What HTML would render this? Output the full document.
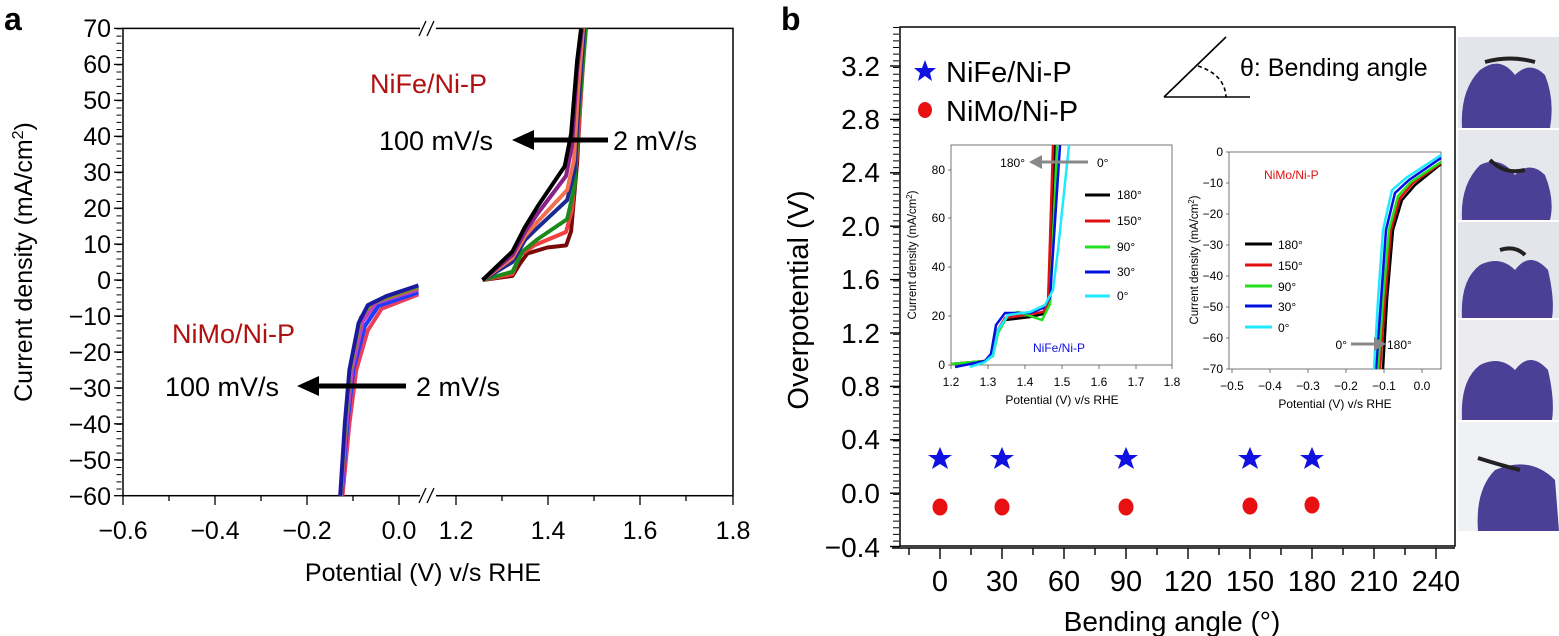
<!DOCTYPE html>
<html><head><meta charset="utf-8"><style>
html,body{margin:0;padding:0;background:#fff;}
svg{display:block;font-family:"Liberation Sans",sans-serif;}
</style></head><body>
<svg width="1559" height="636" viewBox="0 0 1559 636" xmlns="http://www.w3.org/2000/svg">
<!-- ===== Panel a ===== -->
<text x="4" y="30" font-size="32" font-weight="bold">a</text>
<rect x="123" y="28.4" width="610" height="467.3" fill="none" stroke="#000" stroke-width="1.5"/>
<rect x="420" y="22" width="16" height="12" fill="#fff"/>
<rect x="420" y="490" width="16" height="12" fill="#fff"/>
<g stroke="#000" stroke-width="1.3">
<line x1="419" y1="36" x2="426" y2="21"/><line x1="427" y1="36" x2="434" y2="21"/>
<line x1="419" y1="503" x2="426" y2="488"/><line x1="427" y1="503" x2="434" y2="488"/>
</g>
<line x1="119" y1="28.4" x2="119" y2="496" stroke="#000" stroke-width="5" stroke-dasharray="1 6.19"/>
<g stroke="#000" stroke-width="1.3">
<line x1="114" y1="28.4" x2="123" y2="28.4"/><line x1="114" y1="64.4" x2="123" y2="64.4"/><line x1="114" y1="100.3" x2="123" y2="100.3"/><line x1="114" y1="136.3" x2="123" y2="136.3"/><line x1="114" y1="172.2" x2="123" y2="172.2"/><line x1="114" y1="208.2" x2="123" y2="208.2"/><line x1="114" y1="244.1" x2="123" y2="244.1"/><line x1="114" y1="280" x2="123" y2="280"/><line x1="114" y1="316" x2="123" y2="316"/><line x1="114" y1="352" x2="123" y2="352"/><line x1="114" y1="387.9" x2="123" y2="387.9"/><line x1="114" y1="423.8" x2="123" y2="423.8"/><line x1="114" y1="459.8" x2="123" y2="459.8"/><line x1="114" y1="495.7" x2="123" y2="495.7"/>
<line x1="123" y1="496" x2="123" y2="505"/><line x1="169" y1="496" x2="169" y2="501"/><line x1="215" y1="496" x2="215" y2="505"/><line x1="261" y1="496" x2="261" y2="501"/><line x1="307" y1="496" x2="307" y2="505"/><line x1="353" y1="496" x2="353" y2="501"/><line x1="399" y1="496" x2="399" y2="505"/>
<line x1="456" y1="496" x2="456" y2="505"/><line x1="502" y1="496" x2="502" y2="501"/><line x1="548" y1="496" x2="548" y2="505"/><line x1="594" y1="496" x2="594" y2="501"/><line x1="640" y1="496" x2="640" y2="505"/><line x1="686" y1="496" x2="686" y2="501"/><line x1="733" y1="496" x2="733" y2="505"/>
</g>
<g font-size="25" text-anchor="end">
<text x="111" y="37">70</text><text x="111" y="73">60</text><text x="111" y="109">50</text><text x="111" y="145">40</text><text x="111" y="181">30</text><text x="111" y="217">20</text><text x="111" y="253">10</text><text x="111" y="289">0</text><text x="111" y="325">−10</text><text x="111" y="361">−20</text><text x="111" y="397">−30</text><text x="111" y="433">−40</text><text x="111" y="469">−50</text><text x="111" y="505">−60</text>
</g>
<g font-size="25" text-anchor="middle">
<text x="123" y="539">−0.6</text><text x="215" y="539">−0.4</text><text x="307" y="539">−0.2</text><text x="399" y="539">0.0</text><text x="456" y="539">1.2</text><text x="548" y="539">1.4</text><text x="640" y="539">1.6</text><text x="733" y="539">1.8</text>
<text x="423" y="581">Potential (V) v/s RHE</text>
</g>
<text transform="translate(32,262) rotate(-90)" font-size="25" text-anchor="middle">Current density (mA/cm<tspan font-size="16" dy="-9">2</tspan><tspan dy="9">)</tspan></text>
<g fill="none" stroke-width="4" stroke-linejoin="round">
<path d="M342.5,495.7 L349.4,423.8 L356.3,369.9 L367.8,330.3 L381.6,308.8 L418.4,294.4" stroke="#e8405a"/>
<path d="M341.5,495.7 L347.4,423.8 L353.3,369.9 L364.8,326.3 L378.6,305.8 L418.4,292.4" stroke="#1e3cff"/>
<path d="M341,495.7 L346.4,423.8 L352,369.9 L362.8,321.3 L376,303 L418.4,289.4" stroke="#c040c0"/>
<path d="M340.5,495.7 L345.4,423.8 L350.4,369.9 L360.6,318 L372,303 L418.4,287.4" stroke="#8a8a20"/>
<path d="M340.2,495.7 L344.8,423.8 L349.4,369.9 L358.6,323.1 L367.8,305.2 L386.2,296.2 L418.4,285.4" stroke="#1a1aa0"/>
</g>
<g fill="none" stroke-width="4" stroke-linejoin="round">
<path d="M482.6,280 L512.4,275.9 L519.9,263.7 L527.4,253.5 L547.3,247.5 L566.2,245.4 L571.1,231.2 L577.1,162.3 L584.6,28.4" stroke="#7a0a0a"/>
<path d="M482.6,280 L512.4,274 L520,255 L535,245 L566,232 L572,210 L578,140 L585.5,28.4" stroke="#f04040"/>
<path d="M482.6,280 L512.4,271.8 L522.4,251.5 L537.3,239.4 L567.2,219.1 L574.6,186.6 L578.1,121.7 L586,28.4" stroke="#1a8a1a"/>
<path d="M482.6,280 L512.4,262 L525,240 L537.3,228 L567.2,200 L574.6,170 L578.1,110 L584,28.4" stroke="#1a2a90"/>
<path d="M482.6,280 L512.4,258 L525,236 L537.3,222 L567.2,190 L574,160 L578.1,90 L583,28.4" stroke="#f07050"/>
<path d="M482.6,280 L512.4,255 L525,232 L537.3,214 L566,176 L572,146 L577.1,70 L582,28.4" stroke="#8a208a"/>
<path d="M482.6,280 L512.4,251.5 L524.9,227.2 L537.3,206.9 L564.7,166.3 L571.1,133.9 L577.1,60.9 L581.1,28.4" stroke="#000"/>
</g>
<g font-size="27">
<text x="370" y="93" fill="#b01010">NiFe/Ni-P</text>
<text x="172" y="343" fill="#b01010">NiMo/Ni-P</text>
<text x="379" y="150">100 mV/s</text><text x="613" y="150">2 mV/s</text>
<text x="165" y="396">100 mV/s</text><text x="416" y="396">2 mV/s</text>
</g>
<line x1="608" y1="140" x2="528" y2="140" stroke="#000" stroke-width="5"/>
<polygon points="512,140 534,130 534,150" fill="#000"/>
<line x1="406" y1="386" x2="313" y2="386" stroke="#000" stroke-width="5"/>
<polygon points="297,386 319,376 319,396" fill="#000"/>

<!-- ===== Panel b ===== -->
<text x="781" y="30" font-size="32" font-weight="bold">b</text>
<rect x="900" y="27" width="555" height="519" fill="none" stroke="#000" stroke-width="1.5"/>
<line x1="896" y1="27" x2="896" y2="546" stroke="#000" stroke-width="6" stroke-dasharray="1 5.67"/>
<g stroke="#000" stroke-width="1.4">
<line x1="890" y1="66" x2="900" y2="66"/><line x1="890" y1="119.4" x2="900" y2="119.4"/><line x1="890" y1="172.8" x2="900" y2="172.8"/><line x1="890" y1="226.2" x2="900" y2="226.2"/><line x1="890" y1="279.6" x2="900" y2="279.6"/><line x1="890" y1="333" x2="900" y2="333"/><line x1="890" y1="386.4" x2="900" y2="386.4"/><line x1="890" y1="439.8" x2="900" y2="439.8"/><line x1="890" y1="493.2" x2="900" y2="493.2"/><line x1="890" y1="546.5" x2="900" y2="546.5"/>
<line x1="892" y1="548" x2="1455" y2="548"/>
<line x1="909" y1="548" x2="909" y2="555"/><line x1="940" y1="548" x2="940" y2="559"/><line x1="971" y1="548" x2="971" y2="555"/><line x1="1002" y1="548" x2="1002" y2="559"/><line x1="1033" y1="548" x2="1033" y2="555"/><line x1="1064" y1="548" x2="1064" y2="559"/><line x1="1095" y1="548" x2="1095" y2="555"/><line x1="1126" y1="548" x2="1126" y2="559"/><line x1="1157" y1="548" x2="1157" y2="555"/><line x1="1188" y1="548" x2="1188" y2="559"/><line x1="1219" y1="548" x2="1219" y2="555"/><line x1="1250" y1="548" x2="1250" y2="559"/><line x1="1281" y1="548" x2="1281" y2="555"/><line x1="1312" y1="548" x2="1312" y2="559"/><line x1="1343" y1="548" x2="1343" y2="555"/><line x1="1374" y1="548" x2="1374" y2="559"/><line x1="1405" y1="548" x2="1405" y2="555"/><line x1="1436" y1="548" x2="1436" y2="559"/>
</g>
<g font-size="28" text-anchor="end">
<text x="880" y="76">3.2</text><text x="880" y="129">2.8</text><text x="880" y="182">2.4</text><text x="880" y="236">2.0</text><text x="880" y="289">1.6</text><text x="880" y="343">1.2</text><text x="880" y="396">0.8</text><text x="880" y="449">0.4</text><text x="880" y="503">0.0</text><text x="880" y="557">−0.4</text>
</g>
<g font-size="29" text-anchor="middle">
<text x="940" y="591">0</text><text x="1002" y="591">30</text><text x="1064" y="591">60</text><text x="1126" y="591">90</text><text x="1188" y="591">120</text><text x="1250" y="591">150</text><text x="1312" y="591">180</text><text x="1374" y="591">210</text><text x="1436" y="591">240</text>
<text x="1172" y="631" font-size="28">Bending angle (°)</text>
</g>
<text transform="translate(808,300) rotate(-90)" font-size="29" text-anchor="middle">Overpotential (V)</text>
<polygon points="925,60 928,68 936,68 930,73 932,81 925,76 918,81 920,73 914,68 922,68" fill="#1010e0"/>
<text x="946" y="82" font-size="29">NiFe/Ni-P</text>
<ellipse cx="925" cy="110" rx="7" ry="8" fill="#e81010"/>
<text x="946" y="121" font-size="29">NiMo/Ni-P</text>
<g stroke="#000" stroke-width="1.6" fill="none">
<line x1="1164" y1="97" x2="1226" y2="37"/><line x1="1164" y1="97" x2="1250" y2="97"/>
<path d="M1198,66 Q1225,75 1226,97" stroke-dasharray="4 3"/>
</g>
<text x="1240" y="76" font-size="25">θ: Bending angle</text>
<g fill="#1010e0">
<polygon points="940,447 943.5,455 952,455 945,460 948,469 940,464 932,469 935,460 928,455 936.5,455"/>
<polygon points="1002,447 1005.5,455 1014,455 1007,460 1010,469 1002,464 994,469 997,460 990,455 998.5,455"/>
<polygon points="1126,447 1129.5,455 1138,455 1131,460 1134,469 1126,464 1118,469 1121,460 1114,455 1122.5,455"/>
<polygon points="1250,447 1253.5,455 1262,455 1255,460 1258,469 1250,464 1242,469 1245,460 1238,455 1246.5,455"/>
<polygon points="1312,447 1315.5,455 1324,455 1317,460 1320,469 1312,464 1304,469 1307,460 1300,455 1308.5,455"/>
</g>
<g fill="#e81010">
<ellipse cx="940" cy="507" rx="7.5" ry="8.5"/><ellipse cx="1002" cy="507" rx="7.5" ry="8.5"/><ellipse cx="1126" cy="507" rx="7.5" ry="8.5"/><ellipse cx="1250" cy="506" rx="7.5" ry="8.5"/><ellipse cx="1312" cy="505" rx="7.5" ry="8.5"/>
</g>
<!-- inset 1 -->
<rect x="951" y="145" width="221" height="220" fill="#fff" stroke="#555" stroke-width="0.8"/>
<g stroke="#555" stroke-width="0.8">
<line x1="948" y1="365" x2="951" y2="365"/><line x1="948" y1="316" x2="951" y2="316"/><line x1="948" y1="267" x2="951" y2="267"/><line x1="948" y1="218" x2="951" y2="218"/><line x1="948" y1="170" x2="951" y2="170"/>
<line x1="951" y1="365" x2="951" y2="369"/><line x1="988" y1="365" x2="988" y2="369"/><line x1="1025" y1="365" x2="1025" y2="369"/><line x1="1062" y1="365" x2="1062" y2="369"/><line x1="1099" y1="365" x2="1099" y2="369"/><line x1="1136" y1="365" x2="1136" y2="369"/><line x1="1172" y1="365" x2="1172" y2="369"/>
</g>
<g font-size="12" text-anchor="end"><text x="945" y="369">0</text><text x="945" y="320">20</text><text x="945" y="271">40</text><text x="945" y="222">60</text><text x="945" y="174">80</text></g>
<g font-size="12" text-anchor="middle"><text x="951" y="386">1.2</text><text x="988" y="386">1.3</text><text x="1025" y="386">1.4</text><text x="1062" y="386">1.5</text><text x="1099" y="386">1.6</text><text x="1136" y="386">1.7</text><text x="1172" y="386">1.8</text>
<text x="1062" y="404">Potential (V) v/s RHE</text></g>
<text transform="translate(916,255) rotate(-90)" font-size="11.5" text-anchor="middle">Current density (mA/cm<tspan font-size="8" dy="-4">2</tspan><tspan dy="4">)</tspan></text>
<g fill="none" stroke-width="2.5">
<path d="M951,364 L985,361 L991,356 L996,333 L1005,320 L1030,317 L1043,314 L1048,304 L1055,145" stroke="#000"/>
<path d="M951,364 L985,361 L991,356 L996,333 L1005,318 L1030,314 L1043,312 L1048,304 L1053,145" stroke="#e01010"/>
<path d="M951,364 L985,361 L993,356 L998,333 L1008,315 L1018,312 L1030,316 L1042,320 L1050,304 L1057,145" stroke="#20e020"/>
<path d="M955,367 L985,361 L991,354 L996,325 L1005,313 L1030,313 L1043,308 L1050,298 L1060,145" stroke="#0010e0"/>
<path d="M970,367 L985,362 L993,355 L998,330 L1008,315 L1030,312 L1045,305 L1053,290 L1058,250 L1069,145" stroke="#20e8ff"/>
</g>
<line x1="1088" y1="162" x2="1040" y2="162" stroke="#888" stroke-width="3"/><polygon points="1029,162 1042,155 1042,169" fill="#888"/>
<text x="1025" y="167" font-size="12" text-anchor="end">180°</text><text x="1097" y="167" font-size="12">0°</text>
<g stroke-width="3"><line x1="1085" y1="195" x2="1110" y2="195" stroke="#000"/><line x1="1085" y1="221" x2="1110" y2="221" stroke="#e01010"/><line x1="1085" y1="247" x2="1110" y2="247" stroke="#20e020"/><line x1="1085" y1="272" x2="1110" y2="272" stroke="#0010e0"/><line x1="1085" y1="296" x2="1110" y2="296" stroke="#20e8ff"/></g>
<g font-size="12"><text x="1117" y="199">180°</text><text x="1117" y="225">150°</text><text x="1117" y="251">90°</text><text x="1117" y="276">30°</text><text x="1117" y="300">0°</text></g>
<text x="1033" y="352" font-size="12" fill="#1010e0">NiFe/Ni-P</text>
<!-- inset 2 -->
<rect x="1229" y="152" width="212" height="217" fill="#fff" stroke="#555" stroke-width="0.8"/>
<g stroke="#555" stroke-width="0.8">
<line x1="1226" y1="152" x2="1229" y2="152"/><line x1="1226" y1="183" x2="1229" y2="183"/><line x1="1226" y1="214" x2="1229" y2="214"/><line x1="1226" y1="245" x2="1229" y2="245"/><line x1="1226" y1="276" x2="1229" y2="276"/><line x1="1226" y1="307" x2="1229" y2="307"/><line x1="1226" y1="338" x2="1229" y2="338"/><line x1="1226" y1="369" x2="1229" y2="369"/>
<line x1="1232" y1="369" x2="1232" y2="373"/><line x1="1270" y1="369" x2="1270" y2="373"/><line x1="1308" y1="369" x2="1308" y2="373"/><line x1="1346" y1="369" x2="1346" y2="373"/><line x1="1384" y1="369" x2="1384" y2="373"/><line x1="1422" y1="369" x2="1422" y2="373"/>
</g>
<g font-size="12" text-anchor="end"><text x="1223" y="156">0</text><text x="1223" y="187">−10</text><text x="1223" y="218">−20</text><text x="1223" y="249">−30</text><text x="1223" y="280">−40</text><text x="1223" y="311">−50</text><text x="1223" y="342">−60</text><text x="1223" y="373">−70</text></g>
<g font-size="12" text-anchor="middle"><text x="1232" y="390">−0.5</text><text x="1270" y="390">−0.4</text><text x="1308" y="390">−0.3</text><text x="1346" y="390">−0.2</text><text x="1384" y="390">−0.1</text><text x="1422" y="390">0.0</text>
<text x="1335" y="408">Potential (V) v/s RHE</text></g>
<text transform="translate(1198,260) rotate(-90)" font-size="11.5" text-anchor="middle">Current density (mA/cm<tspan font-size="8" dy="-4">2</tspan><tspan dy="4">)</tspan></text>
<g fill="none" stroke-width="2.5">
<path d="M1383,369 L1387,300 L1393,230 L1402,200 L1415,185 L1441,164" stroke="#000"/>
<path d="M1380,369 L1385,300 L1391,230 L1400,198 L1413,183 L1441,163" stroke="#e01010"/>
<path d="M1378,369 L1383,300 L1389,230 L1398,196 L1411,182 L1441,162" stroke="#20e020"/>
<path d="M1376,369 L1381,300 L1386,230 L1395,193 L1409,180 L1441,158" stroke="#0010e0"/>
<path d="M1374,369 L1378,300 L1383,230 L1392,190 L1406,178 L1441,155" stroke="#20e8ff"/>
</g>
<text x="1264" y="179" font-size="12" fill="#e01010">NiMo/Ni-P</text>
<g stroke-width="3"><line x1="1245" y1="244" x2="1272" y2="244" stroke="#000"/><line x1="1245" y1="265" x2="1272" y2="265" stroke="#e01010"/><line x1="1245" y1="286" x2="1272" y2="286" stroke="#20e020"/><line x1="1245" y1="306" x2="1272" y2="306" stroke="#0010e0"/><line x1="1245" y1="327" x2="1272" y2="327" stroke="#20e8ff"/></g>
<g font-size="12"><text x="1278" y="249">180°</text><text x="1278" y="270">150°</text><text x="1278" y="291">90°</text><text x="1278" y="311">30°</text><text x="1278" y="332">0°</text></g>
<line x1="1351" y1="344" x2="1377" y2="344" stroke="#888" stroke-width="3"/><polygon points="1386,344 1374,337 1374,351" fill="#888"/>
<text x="1347" y="349" font-size="12" text-anchor="end">0°</text><text x="1387" y="349" font-size="12">180°</text>
<!-- photos -->
<g>
<rect x="1458" y="37" width="101" height="91" fill="#e4e5ea"/>
<path d="M1462,128 Q1460,90 1480,70 Q1500,55 1515,75 Q1530,60 1545,75 Q1555,100 1550,128 Z" fill="#4b3f96"/>
<path d="M1485,62 Q1510,55 1535,62" stroke="#222" stroke-width="4" fill="none"/>
<rect x="1458" y="130" width="101" height="90" fill="#e6e7ec"/>
<path d="M1462,220 Q1460,185 1480,165 Q1500,155 1515,175 Q1530,160 1545,175 Q1555,200 1550,220 Z" fill="#4b3f96"/>
<path d="M1490,160 Q1505,175 1525,170" stroke="#222" stroke-width="4" fill="none"/>
<rect x="1458" y="222" width="101" height="96" fill="#e4e5ea"/>
<path d="M1462,318 Q1460,280 1480,265 Q1500,255 1515,270 Q1530,250 1548,270 Q1555,300 1552,318 Z" fill="#4b3f96"/>
<path d="M1500,250 Q1515,245 1525,255" stroke="#222" stroke-width="4" fill="none"/>
<rect x="1458" y="320" width="101" height="100" fill="#ececf0"/>
<path d="M1462,420 Q1460,380 1480,365 Q1500,355 1515,370 Q1530,350 1548,370 Q1555,400 1552,420 Z" fill="#4b3f96"/>
<rect x="1458" y="422" width="101" height="109" fill="#f0f1f4"/>
<path d="M1478,531 Q1475,490 1495,470 Q1530,455 1555,480 L1559,531 Z" fill="#4b3f96"/>
<path d="M1478,458 Q1500,465 1520,470" stroke="#222" stroke-width="4" fill="none"/>
</g>
</svg>
</body></html>
